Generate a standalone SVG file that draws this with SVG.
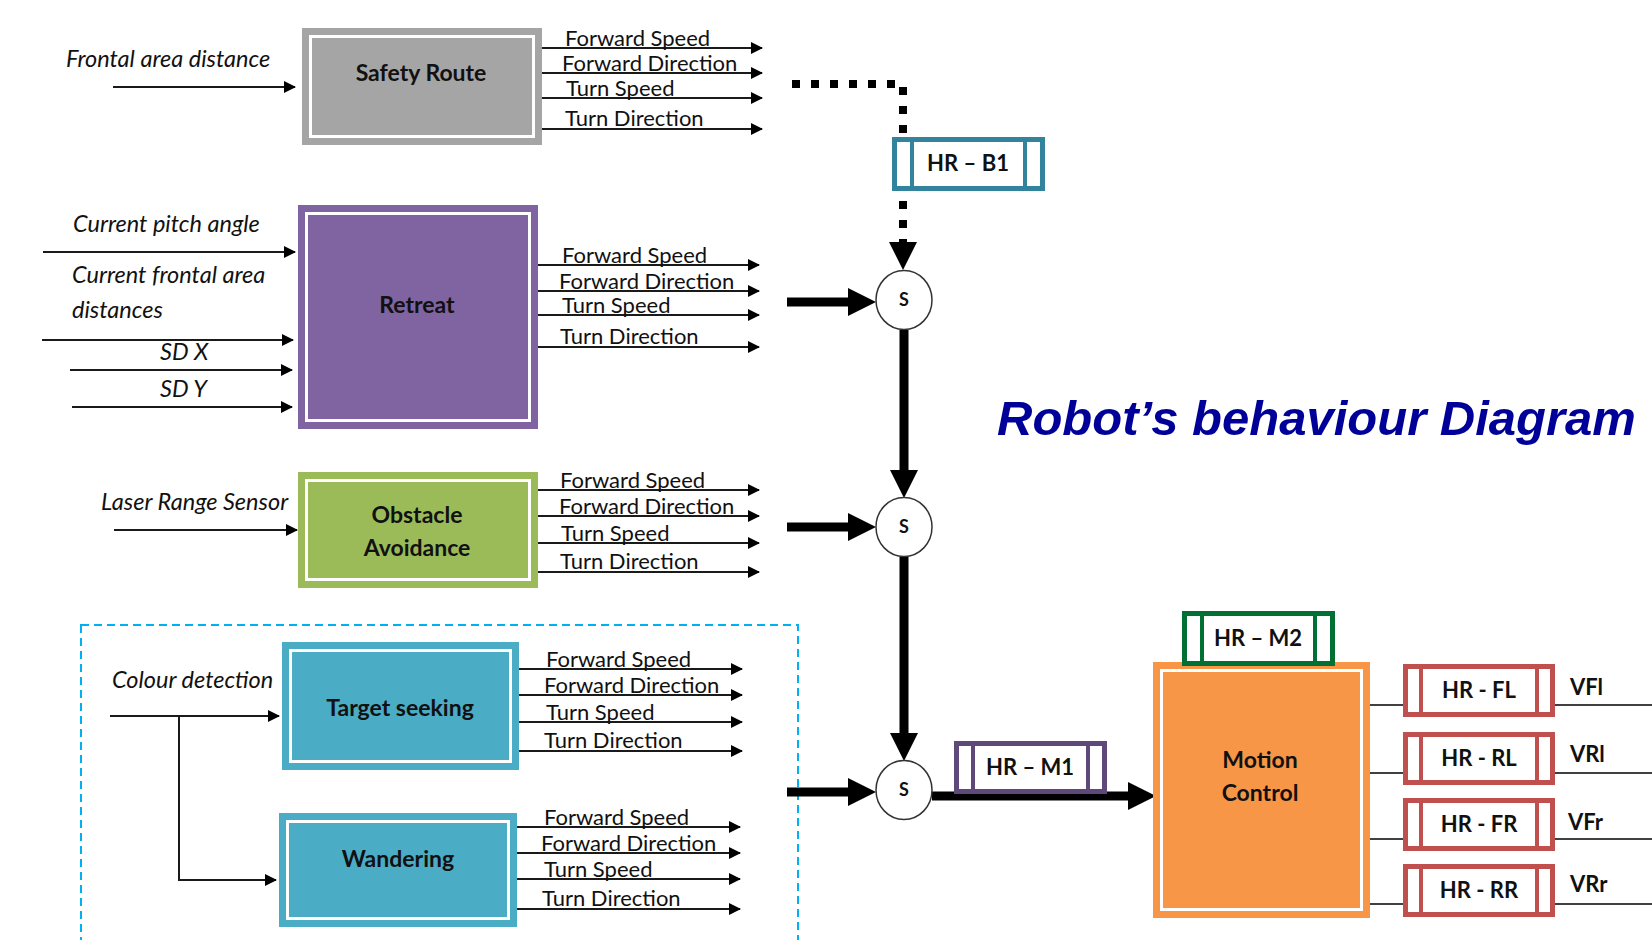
<svg xmlns="http://www.w3.org/2000/svg" width="1652" height="940" viewBox="0 0 1652 940">
<style>
.lbl{font-family:Lato,"Open Sans","Liberation Sans",sans-serif;font-size:22px;fill:#111}
.in{font-family:Lato,"Open Sans","Liberation Sans",sans-serif;font-size:23.5px;font-style:italic;fill:#111}
.ttl{font-family:Lato,"Open Sans","Liberation Sans",sans-serif;font-size:23px;font-weight:bold;fill:#111;text-anchor:middle}
.hr{font-family:Lato,"Open Sans","Liberation Sans",sans-serif;font-size:22px;font-weight:bold;fill:#111;text-anchor:middle}
.thin{stroke:#1a1a1a;stroke-width:2;fill:none;marker-end:url(#a)}
.thick{stroke:#000;stroke-width:9;fill:none;marker-end:url(#A)}
.inner{fill:none;stroke:#fff;stroke-width:3}
.hrbox{fill:#fff;stroke-width:5}
.wire{stroke:#404040;stroke-width:2}
.circ{fill:#fff;stroke:#333;stroke-width:1.5}
</style>
<defs>
<marker id="a" markerUnits="userSpaceOnUse" markerWidth="12" markerHeight="12" viewBox="0 0 12 12" refX="11" refY="6" orient="auto"><path d="M0,0 L12,6 L0,12 z" fill="#000"/></marker>
<marker id="A" markerUnits="userSpaceOnUse" markerWidth="28" markerHeight="28" viewBox="0 0 28 28" refX="0" refY="14" orient="auto"><path d="M0,0 L28,14 L0,28 z" fill="#000"/></marker>
</defs>
<rect width="1652" height="940" fill="#fff"/>

<g id="container">
<rect x="81" y="625" width="717" height="340" fill="none" stroke="#00b0f0" stroke-width="2" stroke-dasharray="8 5"/>
</g>

<g id="connectors">
<line class="thin" x1="113" y1="87" x2="295" y2="87"/>
<line class="thin" x1="43" y1="252" x2="295" y2="252"/>
<line class="thin" x1="42" y1="340" x2="293" y2="340"/>
<line class="thin" x1="70" y1="370" x2="292" y2="370"/>
<line class="thin" x1="72" y1="407" x2="292" y2="407"/>
<line class="thin" x1="114" y1="530" x2="297" y2="530"/>
<line class="thin" x1="110" y1="716" x2="279" y2="716"/>
<path class="thin" d="M179 716 V880 H276"/>
<line class="thin" x1="542" y1="48" x2="762" y2="48"/>
<line class="thin" x1="542" y1="73" x2="762" y2="73"/>
<line class="thin" x1="542" y1="98" x2="762" y2="98"/>
<line class="thin" x1="542" y1="129" x2="762" y2="129"/>
<line class="thin" x1="538" y1="265" x2="759" y2="265"/>
<line class="thin" x1="538" y1="291" x2="759" y2="291"/>
<line class="thin" x1="538" y1="315" x2="759" y2="315"/>
<line class="thin" x1="538" y1="347" x2="759" y2="347"/>
<line class="thin" x1="538" y1="490" x2="759" y2="490"/>
<line class="thin" x1="538" y1="516" x2="759" y2="516"/>
<line class="thin" x1="538" y1="543" x2="759" y2="543"/>
<line class="thin" x1="538" y1="572" x2="759" y2="572"/>
<line class="thin" x1="519" y1="669" x2="742" y2="669"/>
<line class="thin" x1="519" y1="695" x2="742" y2="695"/>
<line class="thin" x1="519" y1="722" x2="742" y2="722"/>
<line class="thin" x1="519" y1="751" x2="742" y2="751"/>
<line class="thin" x1="517" y1="827" x2="740" y2="827"/>
<line class="thin" x1="517" y1="853" x2="740" y2="853"/>
<line class="thin" x1="517" y1="879" x2="740" y2="879"/>
<line class="thin" x1="517" y1="909" x2="740" y2="909"/>
<path d="M792 84 H903 V242" fill="none" stroke="#000" stroke-width="8" stroke-dasharray="8 11"/>
<path d="M889 242 L917 242 L903 270 z" fill="#000"/>
<line class="thick" x1="787" y1="302" x2="848" y2="302"/>
<line class="thick" x1="904" y1="330" x2="904" y2="470"/>
<line class="thick" x1="787" y1="527" x2="848" y2="527"/>
<line class="thick" x1="904" y1="557" x2="904" y2="733"/>
<line class="thick" x1="787" y1="792" x2="848" y2="792"/>
<line class="thick" x1="932" y1="796" x2="1128" y2="796"/>
<line class="wire" x1="1370" y1="705" x2="1403" y2="705"/>
<line class="wire" x1="1555" y1="705" x2="1652" y2="705"/>
<line class="wire" x1="1370" y1="773" x2="1403" y2="773"/>
<line class="wire" x1="1555" y1="773" x2="1652" y2="773"/>
<line class="wire" x1="1370" y1="839" x2="1403" y2="839"/>
<line class="wire" x1="1555" y1="839" x2="1652" y2="839"/>
<line class="wire" x1="1370" y1="904" x2="1403" y2="904"/>
<line class="wire" x1="1555" y1="904" x2="1652" y2="904"/>
</g>

<g id="inputs-text">
<text class="in" x="66" y="67">Frontal area distance</text>
<text class="in" x="73" y="232">Current pitch angle</text>
<text class="in" x="72" y="283">Current frontal area</text>
<text class="in" x="72" y="318">distances</text>
<text class="in" x="160" y="360">SD X</text>
<text class="in" x="160" y="397">SD Y</text>
<text class="in" x="101" y="510">Laser Range Sensor</text>
<text class="in" x="112" y="688">Colour detection</text>
</g>

<g id="safety-route">
<rect x="302" y="28" width="240" height="117" fill="#a5a5a5"/>
<rect class="inner" x="310.5" y="36.5" width="223" height="100"/>
<text class="ttl" x="421" y="81">Safety Route</text>
<text class="lbl" x="565" y="46">Forward Speed</text>
<text class="lbl" x="562" y="71">Forward Direction</text>
<text class="lbl" x="566" y="96">Turn Speed</text>
<text class="lbl" x="565" y="126">Turn Direction</text>
</g>

<g id="retreat">
<rect x="298" y="205" width="240" height="224" fill="#8064a2"/>
<rect class="inner" x="306.5" y="213.5" width="223" height="207"/>
<text class="ttl" x="417" y="313">Retreat</text>
<text class="lbl" x="562" y="263">Forward Speed</text>
<text class="lbl" x="559" y="289">Forward Direction</text>
<text class="lbl" x="562" y="313">Turn Speed</text>
<text class="lbl" x="560" y="344">Turn Direction</text>
</g>

<g id="obstacle-avoidance">
<rect x="298" y="472" width="240" height="116" fill="#9bbb59"/>
<rect class="inner" x="306.5" y="480.5" width="223" height="99"/>
<text class="ttl" x="417" y="523">Obstacle</text>
<text class="ttl" x="417" y="556">Avoidance</text>
<text class="lbl" x="560" y="488">Forward Speed</text>
<text class="lbl" x="559" y="514">Forward Direction</text>
<text class="lbl" x="561" y="541">Turn Speed</text>
<text class="lbl" x="560" y="569">Turn Direction</text>
</g>

<g id="target-seeking">
<rect x="282" y="642" width="237" height="128" fill="#4bacc6"/>
<rect class="inner" x="290.5" y="650.5" width="220" height="111"/>
<text class="ttl" x="400" y="716">Target seeking</text>
<text class="lbl" x="546" y="667">Forward Speed</text>
<text class="lbl" x="544" y="693">Forward Direction</text>
<text class="lbl" x="546" y="720">Turn Speed</text>
<text class="lbl" x="544" y="748">Turn Direction</text>
</g>

<g id="wandering">
<rect x="279" y="813" width="238" height="114" fill="#4bacc6"/>
<rect class="inner" x="287.5" y="821.5" width="221" height="97"/>
<text class="ttl" x="398" y="867">Wandering</text>
<text class="lbl" x="544" y="825">Forward Speed</text>
<text class="lbl" x="541" y="851">Forward Direction</text>
<text class="lbl" x="544" y="877">Turn Speed</text>
<text class="lbl" x="542" y="906">Turn Direction</text>
</g>

<g id="hr-b1">
<rect class="hrbox" x="894.5" y="139.5" width="148" height="49" stroke="#31849b"/>
<line x1="912" y1="139" x2="912" y2="189" stroke="#31849b" stroke-width="4"/>
<line x1="1025" y1="139" x2="1025" y2="189" stroke="#31849b" stroke-width="4"/>
<text class="hr" x="968" y="171">HR – B1</text>
</g>

<g id="s1">
<ellipse class="circ" cx="904" cy="300" rx="28" ry="29.5"/>
<text class="hr" x="904" y="306" style="font-size:18px">S</text>
</g>
<g id="s2">
<ellipse class="circ" cx="904" cy="527" rx="28" ry="29.5"/>
<text class="hr" x="904" y="533" style="font-size:18px">S</text>
</g>
<g id="s3">
<ellipse class="circ" cx="904" cy="790" rx="28" ry="29.5"/>
<text class="hr" x="904" y="796" style="font-size:18px">S</text>
</g>

<g id="hr-m1">
<rect class="hrbox" x="956.5" y="743.5" width="148" height="48" stroke="#5f497a"/>
<line x1="973" y1="743" x2="973" y2="792" stroke="#5f497a" stroke-width="4"/>
<line x1="1088" y1="743" x2="1088" y2="792" stroke="#5f497a" stroke-width="4"/>
<text class="hr" x="1030" y="775">HR – M1</text>
</g>

<g id="motion-control">
<rect x="1153" y="662" width="217" height="256" fill="#f79646"/>
<rect class="inner" x="1161.5" y="670.5" width="200" height="239"/>
<text class="ttl" x="1260" y="768">Motion</text>
<text class="ttl" x="1260" y="801">Control</text>
</g>

<g id="hr-m2">
<rect class="hrbox" x="1184.5" y="613.5" width="148" height="50" stroke="#007033"/>
<line x1="1202" y1="613" x2="1202" y2="664" stroke="#007033" stroke-width="4"/>
<line x1="1315" y1="613" x2="1315" y2="664" stroke="#007033" stroke-width="4"/>
<text class="hr" x="1258" y="646">HR – M2</text>
</g>

<g id="hr-fl">
<rect class="hrbox" x="1405.5" y="666.5" width="147" height="48" stroke="#c0504d"/>
<line x1="1421" y1="666" x2="1421" y2="715" stroke="#c0504d" stroke-width="4"/>
<line x1="1537" y1="666" x2="1537" y2="715" stroke="#c0504d" stroke-width="4"/>
<text class="hr" x="1479" y="698">HR - FL</text>
<text class="hr" x="1570" y="695" style="text-anchor:start">VFl</text>
</g>
<g id="hr-rl">
<rect class="hrbox" x="1405.5" y="734.5" width="147" height="48" stroke="#c0504d"/>
<line x1="1421" y1="734" x2="1421" y2="783" stroke="#c0504d" stroke-width="4"/>
<line x1="1537" y1="734" x2="1537" y2="783" stroke="#c0504d" stroke-width="4"/>
<text class="hr" x="1479" y="766">HR - RL</text>
<text class="hr" x="1570" y="762" style="text-anchor:start">VRl</text>
</g>
<g id="hr-fr">
<rect class="hrbox" x="1405.5" y="800.5" width="147" height="48" stroke="#c0504d"/>
<line x1="1421" y1="800" x2="1421" y2="849" stroke="#c0504d" stroke-width="4"/>
<line x1="1537" y1="800" x2="1537" y2="849" stroke="#c0504d" stroke-width="4"/>
<text class="hr" x="1479" y="832">HR - FR</text>
<text class="hr" x="1568" y="830" style="text-anchor:start">VFr</text>
</g>
<g id="hr-rr">
<rect class="hrbox" x="1405.5" y="866.5" width="147" height="48" stroke="#c0504d"/>
<line x1="1421" y1="866" x2="1421" y2="915" stroke="#c0504d" stroke-width="4"/>
<line x1="1537" y1="866" x2="1537" y2="915" stroke="#c0504d" stroke-width="4"/>
<text class="hr" x="1479" y="898">HR - RR</text>
<text class="hr" x="1570" y="892" style="text-anchor:start">VRr</text>
</g>

<g id="title">
<text x="997" y="435" font-family="'Liberation Sans',Arial,sans-serif" font-size="49" font-weight="bold" font-style="italic" fill="#000099">Robot’s behaviour Diagram</text>
</g>
</svg>
